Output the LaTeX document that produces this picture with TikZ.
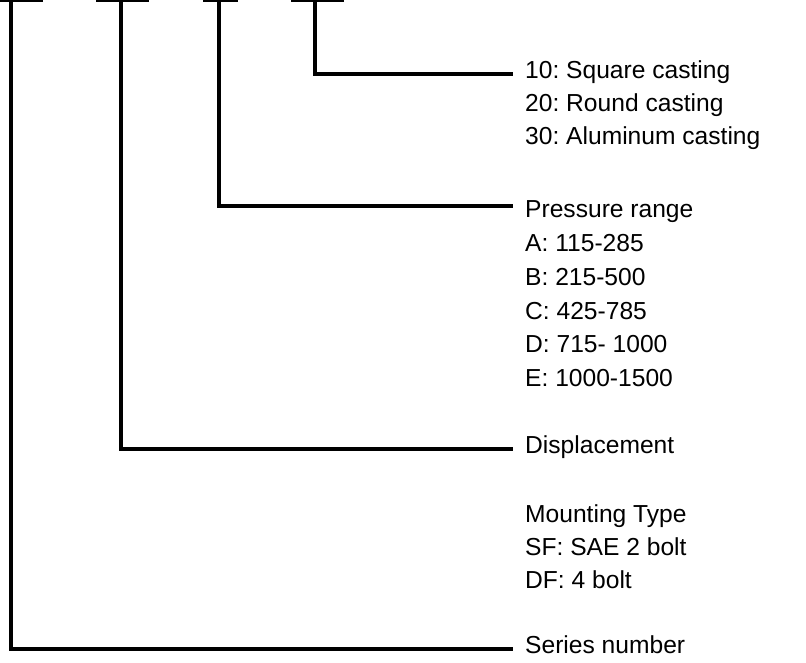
\documentclass[tikz,border=0pt]{standalone}
\usepackage{fontspec}
\setmainfont{Liberation Sans}
\frenchspacing
\begin{document}
\begin{tikzpicture}[x=1pt,y=-1pt,
  conn/.style={draw=black,line width=3.2pt},
  lbl/.style={anchor=base west,inner sep=0pt,font=\fontsize{24.6}{33.4}\selectfont\frenchspacing}]
\useasboundingbox (0,0) rectangle (806,662);
% top underline segments (cropped)
\coordinate (s1a) at (0,0);   \coordinate (s1b) at (43,0);
\coordinate (s2a) at (96,0);  \coordinate (s2b) at (149,0);
\coordinate (s3a) at (203,0); \coordinate (s3b) at (238,0);
\coordinate (s4a) at (291,0); \coordinate (s4b) at (344,0);
\draw[conn] (s1a) -- (s1b);
\draw[conn] (s2a) -- (s2b);
\draw[conn] (s3a) -- (s3b);
\draw[conn] (s4a) -- (s4b);
% tops of the leaders
\coordinate (t1) at (11,0);
\coordinate (t2) at (121,0);
\coordinate (t3) at (219,0);
\coordinate (t4) at (315,0);
% ends of the leaders
\coordinate (e4) at (513,74);
\coordinate (e3) at (513,206);
\coordinate (e2) at (513,449);
\coordinate (e1) at (513,649);
% labels
\node[lbl] (c10) at (525,78) {10: Square casting};
\node[lbl] (c20) at (525,111.4) {20: Round casting};
\node[lbl] (c30) at (525,144.8) {30: Aluminum casting};
\node[lbl] (pr) at (525,217) {Pressure range};
\node[lbl] (pa) at (525,251) {A: 115-285};
\node[lbl] (pb) at (525,285) {B: 215-500};
\node[lbl] (pc) at (525,319) {C: 425-785};
\node[lbl] (pd) at (525,352) {D: 715- 1000};
\node[lbl] (pe) at (525,386) {E: 1000-1500};
\node[lbl] (disp) at (525,453) {Displacement};
\node[lbl] (mt) at (525,522) {Mounting Type};
\node[lbl] (sf) at (525,555) {SF: SAE 2 bolt};
\node[lbl] (df) at (525,588) {DF: 4 bolt};
\node[lbl] (ser) at (525,653) {Series number};
% leaders
\draw[conn] (t4) |- (e4);
\draw[conn] (t3) |- (e3);
\draw[conn] (t2) |- (e2);
\draw[conn] (t1) |- (e1);
\end{tikzpicture}
\end{document}
